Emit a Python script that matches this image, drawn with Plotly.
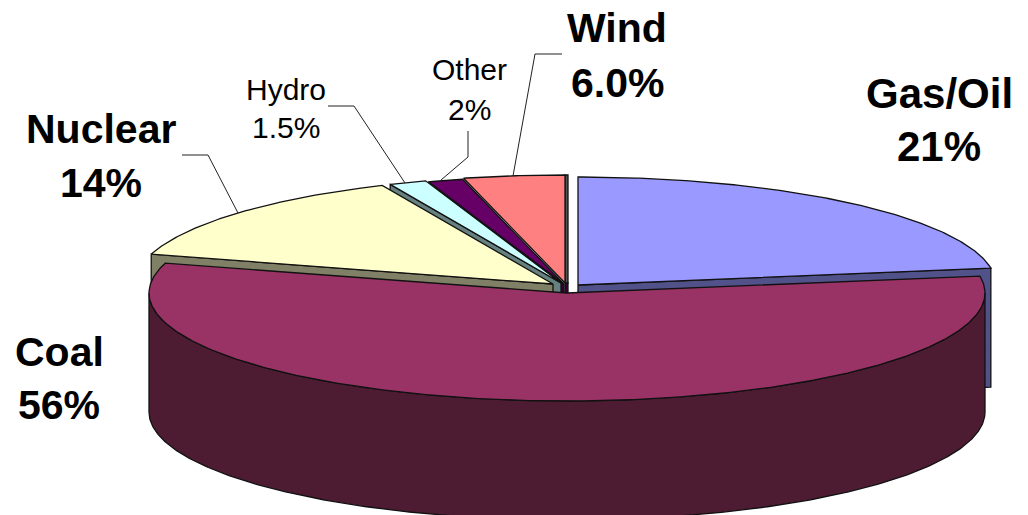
"""Tilted, exploded pie with a thick rim, drawn on a pixel-sized cartesian plot."""

import numpy as np
import plotly.graph_objects as go

# slice sizes as drawn in the picture (the printed labels do not quite agree with them)
slices = ["Gas/Oil", "Coal", "Nuclear", "Hydro", "Other", "Wind"]
shares = [22.5, 56.95, 13.85, 1.45, 1.35, 3.9]
label_values = ["21%", "56%", "14%", "1.5%", "2%", "6.0%"]

top_colors = ["#9999FF", "#993366", "#FFFFCC", "#CCFFFF", "#660066", "#FF8080"]
side_colors = ["#52528A", "#4D1C33", "#808066", "#668080", "#330033", "#555555"]

FONT = "Liberation Sans, Arial, sans-serif"
W, H = 1028, 515
RX, RY = 418, 108
DEPTH = 119

# where each slice's tip ends up after the explosion
tips = {
    "Gas/Oil": (578, 285),
    "Coal": (567, 293),
    "Nuclear": (553, 284),
    "Hydro": (561, 283),
    "Other": (564, 284),
    "Wind": (565, 283),
}

label_pos = {
    "Gas/Oil": (939, 93, 146, 42, True),
    "Coal": (59, 352, 405, 41, True),
    "Nuclear": (101, 129, 183, 41, True),
    "Hydro": (286, 89, 127, 30, False),
    "Other": (469, 69, 109, 30, False),
    "Wind": (617, 28, 83, 41, True),
}

leaders = [
    [(182, 155), (208, 155), (238, 213)],
    [(328, 106), (354, 106), (405, 183)],
    [(468, 131), (468, 157), (441, 180)],
    [(562, 54), (535, 54), (513, 176)],
]


def rim(tip, a0, a1):
    t = np.radians(np.linspace(a0, a1, max(2, int(abs(a1 - a0)) * 2 + 2)))
    return tip[0] + RX * np.sin(t), tip[1] - RY * np.cos(t)


def poly(fig, xs, ys, fill, width=1.3):
    fig.add_trace(
        go.Scatter(
            x=xs,
            y=ys,
            mode="lines",
            fill="toself",
            fillcolor=fill,
            line=dict(color="#111111", width=width),
            hoverinfo="skip",
            showlegend=False,
        )
    )


def add_wedge(fig, tip, a0, a1, fill, width=1.3):
    x, y = rim(tip, a0, a1)
    poly(fig, [tip[0], *x, tip[0]], [tip[1], *y, tip[1]], fill, width)


def add_wall(fig, tip, angle, fill, dx=0, dy=DEPTH):
    x, y = rim(tip, angle, angle)
    xs = [tip[0], x[0], x[0] + dx, tip[0] + dx, tip[0]]
    ys = [tip[1], y[0], y[0] + dy, tip[1] + dy, tip[1]]
    poly(fig, xs, ys, fill)


edges = np.cumsum([0, *shares]) / sum(shares) * 360
ang = {n: (edges[i], edges[i + 1]) for i, n in enumerate(slices)}
top = dict(zip(slices, top_colors))
side = dict(zip(slices, side_colors))

fig = go.Figure()

# painted back to front
add_wall(fig, tips["Gas/Oil"], ang["Gas/Oil"][1], side["Gas/Oil"])
add_wedge(fig, tips["Gas/Oil"], *ang["Gas/Oil"], top["Gas/Oil"])

# wind's right wall is nearly edge-on, so only a thin strip shows
tx, ty = tips["Wind"]
poly(fig, [tx, tx + 3, tx + 3, tx, tx], [ty, ty, ty + 11, ty + 11, ty], "#330033")
add_wall(fig, tips["Wind"], ang["Wind"][1], side["Wind"], dx=3, dy=0)
add_wedge(fig, tips["Wind"], *ang["Wind"], top["Wind"])
add_wall(fig, tips["Other"], ang["Other"][0], side["Other"])
add_wedge(fig, tips["Other"], *ang["Other"], top["Other"])
add_wall(fig, tips["Hydro"], ang["Hydro"][0], side["Hydro"])
add_wedge(fig, tips["Hydro"], *ang["Hydro"], top["Hydro"])
add_wall(fig, tips["Nuclear"], ang["Nuclear"][0], side["Nuclear"])
add_wedge(fig, tips["Nuclear"], *ang["Nuclear"], top["Nuclear"])

# coal body: front rim extruded downwards, then its top
cx, cy = rim(tips["Coal"], 90, 270)
poly(fig, [*cx, *cx[::-1], cx[0]], [*cy, *(cy[::-1] + DEPTH), cy[0]], side["Coal"])
add_wedge(fig, tips["Coal"], *ang["Coal"], top["Coal"])

shapes = [
    dict(
        type="path",
        path="M " + " L ".join(f"{x},{y}" for x, y in pts),
        line=dict(color="#222222", width=1),
        xref="x",
        yref="y",
    )
    for pts in leaders
]

annotations = []
for name, value in zip(slices, label_values):
    x, y_name, y_value, size, bold = label_pos[name]
    for text, y in ((name, y_name), (value, y_value)):
        annotations.append(
            dict(
                x=x,
                y=y,
                xref="x",
                yref="y",
                text=f"<b>{text}</b>" if bold else text,
                showarrow=False,
                xanchor="center",
                yanchor="middle",
                font=dict(family=FONT, size=size, color="#000000"),
            )
        )

fig.update_layout(
    width=W,
    height=H,
    margin=dict(l=0, r=0, t=0, b=0),
    paper_bgcolor="white",
    plot_bgcolor="white",
    showlegend=False,
    shapes=shapes,
    annotations=annotations,
    xaxis=dict(range=[0, W], visible=False, fixedrange=True),
    yaxis=dict(range=[H, 0], visible=False, fixedrange=True),
)
fig.write_html(
    "out.html",
    config=dict(displayModeBar=False),
    post_script="document.body.style.margin = '0'; document.body.style.overflow = 'hidden';",
)
